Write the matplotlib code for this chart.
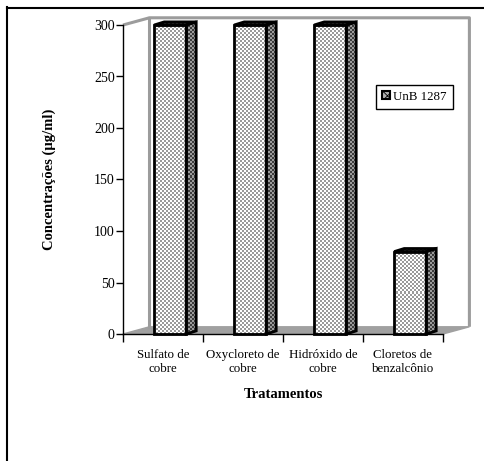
import matplotlib
matplotlib.use("Agg")
import numpy as np
from matplotlib import pyplot as plt
from matplotlib.colors import ListedColormap
from matplotlib.patches import Polygon, Rectangle
from matplotlib.lines import Line2D

# data
categories = ["Sulfato de\ncobre", "Oxycloreto de\ncobre", "Hidróxido de\ncobre",
              "Cloretos de\nbenzalcônio"]
values = [300, 300, 300, 80]
series_name = "UnB 1287"
yticks = [0, 50, 100, 150, 200, 250, 300]

plt.rcParams["font.family"] = ["Liberation Serif", "DejaVu Serif"]
plt.rcParams["hatch.linewidth"] = 0.6

W, H = 485, 461
fig = plt.figure(figsize=(W / 100, H / 100), dpi=100)
ax = fig.add_axes([123 / W, 1 - 334 / H, 320 / W, 309 / H])

n = len(categories)
ymax = 300
ax.set_xlim(0, n)
ax.set_ylim(0, ymax)

# depth of the "3D" box (data units)
wx, wy = 0.33, 7.0
# bar geometry
bx0, bw = 0.39, 0.40
dx, dy = 0.125, 3.0


def px(x, y):
    return ax.transData.transform((x, y))


def textured(poly, c1, c2, cell=2):
    """Fill a polygon with a fine checker texture, like the old Excel patterns."""
    xs = [p[0] for p in poly]
    ys = [p[1] for p in poly]
    (px0, py0), (px1, py1) = px(min(xs), min(ys)), px(max(xs), max(ys))
    cols = max(1, int(round((px1 - px0) / cell)))
    rows = max(1, int(round((py1 - py0) / cell)))
    r, c = np.indices((rows, cols))
    tex = (r + c) % 2
    clip = Polygon(poly, facecolor="none", edgecolor="none", clip_on=False)
    ax.add_patch(clip)
    im = ax.imshow(tex, cmap=ListedColormap([c1, c2]), interpolation="nearest",
                   extent=[min(xs), max(xs), min(ys), max(ys)], origin="lower",
                   aspect="auto", zorder=3)
    im.set_clip_path(clip)
    im.set_clip_box(fig.bbox)


wall = "#9c9c9c"
# floor
ax.add_patch(Polygon([(0, 0), (n, 0), (n + wx, wy), (wx, wy)], closed=True,
                     facecolor="#a0a0a0", edgecolor="#a0a0a0", lw=1,
                     clip_on=False, zorder=1))
# back wall and left wall outline
ax.plot([0, wx, n + wx, n + wx], [ymax, ymax + wy, ymax + wy, wy],
        color=wall, lw=2.2, clip_on=False, zorder=1, solid_capstyle="butt")
ax.plot([wx, wx], [wy, ymax + wy], color=wall, lw=2.2, clip_on=False, zorder=1)

for i, v in enumerate(values):
    x0 = i + bx0
    x1 = x0 + bw
    front = [(x0, 0), (x1, 0), (x1, v), (x0, v)]
    side = [(x1, 0), (x1 + dx, dy), (x1 + dx, v + dy), (x1, v)]
    top = [(x0, v), (x1, v), (x1 + dx, v + dy), (x0 + dx, v + dy)]
    textured(front, "#ffffff", "#9a9a9a")
    textured(side, "#3c3c3c", "#9a9a9a")
    textured(top, "#1a1a1a", "#5a5a5a")
    for poly in (front, side, top):
        ax.add_patch(Polygon(poly, fill=False, edgecolor="black", lw=2,
                             joinstyle="miter", clip_on=False, zorder=4))

ax.set_xlim(0, n)
ax.set_ylim(0, ymax)

# axes
for s in ("top", "right"):
    ax.spines[s].set_visible(False)
for s in ("left", "bottom"):
    ax.spines[s].set_linewidth(1)
    ax.spines[s].set_zorder(5)
ax.patch.set_visible(False)

ax.set_yticks(yticks)
ax.tick_params(axis="y", direction="out", length=5, width=1, pad=1,
               labelsize=10)
ax.set_xticks(range(n + 1))
ax.set_xticklabels([])
ax.tick_params(axis="x", which="major", direction="out", length=6, width=1)
ax.set_xticks([i + 0.5 for i in range(n)], minor=True)
ax.set_xticklabels(categories, minor=True, fontsize=9.3, linespacing=1.2)
ax.tick_params(axis="x", which="minor", length=0, pad=11)

ax.set_xlabel("Tratamentos", fontsize=10.5, fontweight="bold", labelpad=9)
ax.set_ylabel("Concentrações (µg/ml)", fontsize=10.5, fontweight="bold",
              labelpad=27)

# legend
handle = Rectangle((0, 0), 1, 1, facecolor="#b0b0b0", edgecolor="black",
                   hatch="xxxx", lw=1.5)
leg = ax.legend([handle], [series_name], loc="upper left",
                bbox_to_anchor=(376 / W, 1 - 85 / H),
                bbox_transform=fig.transFigure, borderaxespad=0,
                fontsize=9.3, handlelength=0.6, handleheight=0.6,
                handletextpad=0.3, borderpad=0.45, fancybox=False,
                framealpha=1)
leg.get_frame().set_edgecolor("black")
leg.get_frame().set_linewidth(1)

# outer chart frame (only top and left show)
fig.add_artist(Line2D([7 / W, 7 / W], [0, 1 - 7 / H], color="black", lw=1.5,
                      transform=fig.transFigure))
fig.add_artist(Line2D([7 / W, 1], [1 - 8 / H, 1 - 8 / H], color="black",
                      lw=1.5, transform=fig.transFigure))

fig.savefig("out.png", dpi=100)
